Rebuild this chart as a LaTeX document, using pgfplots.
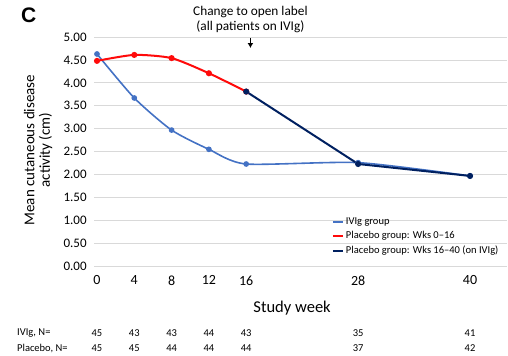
\documentclass[border=0pt]{standalone}
\usepackage{fontspec}
\setmainfont{Carlito}
\newfontfamily\arialfont{Liberation Sans}
\usepackage{pgfplots}
\pgfplotsset{compat=1.18}
\usetikzlibrary{arrows.meta}
\definecolor{ivblue}{RGB}{68,114,196}
\definecolor{pred}{RGB}{255,10,10}
\definecolor{navy}{RGB}{0,32,96}
\definecolor{gridc}{RGB}{217,217,217}
\begin{document}
\begin{tikzpicture}
\begin{axis}[
  scale only axis,
  width=412.8pt, height=229pt,
  xmin=-0.3, xmax=44, ymin=0, ymax=5,
  axis line style={draw=none},
  tick style={draw=none},
  xtick={0,4,8,12,16,28,40},
  ytick={0,0.5,...,5},
  ymajorgrids, grid style={gridc, line width=0.8pt},
  yticklabel={\pgfmathprintnumber[fixed,fixed zerofill,precision=2]{\tick}},
  /pgf/number format/assume math mode=true,
  yticklabel style={font=\fontsize{13}{15}\selectfont, xshift=-4pt},
  xticklabel style={font=\fontsize{14}{16}\selectfont, yshift=-6pt},
  xlabel={Study week},
  xlabel style={font=\fontsize{16.5}{18}\selectfont, at={(rel axis cs:0.479,-0.183)}, anchor=center},
  ylabel={Mean cutaneous disease\\activity (cm)},
  ylabel style={font=\fontsize{15}{15.5}\selectfont, align=center, at={(rel axis cs:-0.136,0.507)}, anchor=center},
  clip=false,
  legend style={draw=none, fill=none, at={(rel axis cs:0.575,0.222)}, anchor=north west,
    font=\fontsize{10.5}{12}\selectfont, row sep=1.8pt, inner sep=0pt},
  legend cell align=left,
  legend image code/.code={\draw[#1, line width=2pt] (0,0) -- (10pt,0);},
  every axis plot/.append style={mark=*, mark size=2pt},
]
\path (axis cs:-10.40,-1.943) rectangle (axis cs:44.07,5.808);
\addplot[ivblue, line width=1.6pt, smooth, tension=0.4, mark options={fill=ivblue}] coordinates {
(0,4.63) (4,3.67) (8,2.97) (12,2.55) (16,2.23) (28,2.26) (40,1.97)};
\addlegendentry{IVIg group}
\addplot[pred, line width=2pt, smooth, tension=0.4, mark options={fill=pred}] coordinates {
(0,4.48) (4,4.61) (8,4.54) (12,4.21) (16,3.81)};
\addlegendentry{Placebo group: Wks 0--16}
\addplot[navy, line width=2pt, mark options={fill=navy}] coordinates {
(16,3.81) (28,2.23) (40,1.97)};
\addlegendentry{Placebo group: Wks 16--40 (on IVIg)}
\draw[-{Latex[length=5pt,width=6pt]}, line width=1.4pt] (axis cs:16.45,4.98) -- (axis cs:16.45,4.76);
\node[font=\fontsize{13.3}{15}\selectfont] at (axis cs:16.45,5.55) {Change to open label};
\node[font=\fontsize{13.3}{15}\selectfont] at (axis cs:16.45,5.22) {(all patients on IVIg)};
\node[font=\fontsize{10.5}{12}\selectfont] at (axis cs:0,-1.46) {45};
\node[font=\fontsize{10.5}{12}\selectfont] at (axis cs:4,-1.46) {43};
\node[font=\fontsize{10.5}{12}\selectfont] at (axis cs:8,-1.46) {43};
\node[font=\fontsize{10.5}{12}\selectfont] at (axis cs:12,-1.46) {44};
\node[font=\fontsize{10.5}{12}\selectfont] at (axis cs:16,-1.46) {43};
\node[font=\fontsize{10.5}{12}\selectfont] at (axis cs:28,-1.46) {35};
\node[font=\fontsize{10.5}{12}\selectfont] at (axis cs:40,-1.46) {41};
\node[font=\fontsize{10.5}{12}\selectfont] at (axis cs:0,-1.79) {45};
\node[font=\fontsize{10.5}{12}\selectfont] at (axis cs:4,-1.79) {45};
\node[font=\fontsize{10.5}{12}\selectfont] at (axis cs:8,-1.79) {44};
\node[font=\fontsize{10.5}{12}\selectfont] at (axis cs:12,-1.79) {44};
\node[font=\fontsize{10.5}{12}\selectfont] at (axis cs:16,-1.79) {44};
\node[font=\fontsize{10.5}{12}\selectfont] at (axis cs:28,-1.79) {37};
\node[font=\fontsize{10.5}{12}\selectfont] at (axis cs:40,-1.79) {42};
\node[anchor=west, font=\fontsize{10.5}{12}\selectfont, inner sep=0pt] at (axis cs:-8.58,-1.463) {IVIg, N=};
\node[anchor=west, font=\fontsize{10.5}{12}\selectfont, inner sep=0pt] at (axis cs:-8.58,-1.79) {Placebo, N=};
\node[anchor=west, font=\arialfont\bfseries\fontsize{21}{22}\selectfont, inner sep=0pt] at (axis cs:-8.15,5.48) {C};
\end{axis}
\end{tikzpicture}
\end{document}
